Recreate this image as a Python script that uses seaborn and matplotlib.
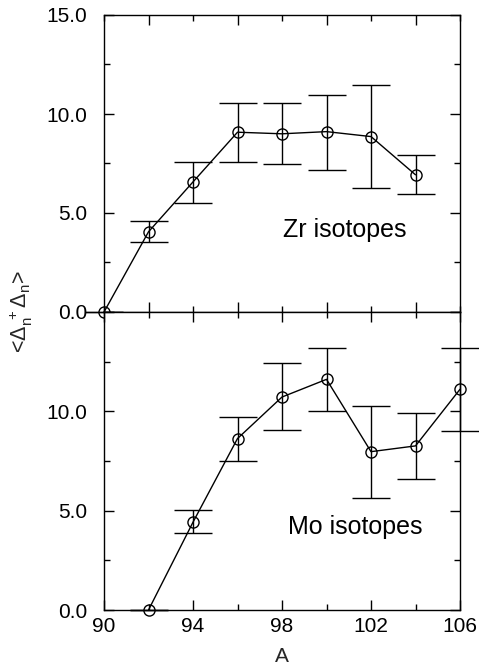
import numpy as np
import pandas as pd
import matplotlib
matplotlib.use("Agg")
import matplotlib.pyplot as plt
from matplotlib.ticker import MultipleLocator
import seaborn as sns

# ---- data ----
zr_A = [90, 92, 94, 96, 98, 100, 102, 104]
zr_val = [0.0, 4.05, 6.57, 9.08, 9.0, 9.11, 8.86, 6.93]
zr_hi = [0.0, 4.59, 7.60, 10.54, 10.54, 10.97, 11.46, 7.92]
zr_lo = [0.0, 3.52, 5.48, 7.59, 7.45, 7.19, 6.25, 5.95]

mo_A = [92, 94, 96, 98, 100, 102, 104, 106]
mo_val = [0.0, 4.42, 8.63, 10.72, 11.61, 7.97, 8.26, 11.11]
mo_hi = [0.0, 5.01, 9.73, 12.43, 13.20, 10.27, 9.93, 13.20]
mo_lo = [0.0, 3.87, 7.52, 9.05, 10.02, 5.63, 6.58, 9.00]

x_ticks = [90, 94, 98, 102, 106]
y_ticks = [0.0, 5.0, 10.0, 15.0]
panel_labels = ["Zr isotopes", "Mo isotopes"]

sns.set_theme(style="ticks")
plt.rcParams['font.family'] = ['Liberation Sans', 'DejaVu Sans']
plt.rcParams['mathtext.fontset'] = 'custom'
plt.rcParams['mathtext.rm'] = 'Liberation Sans'
plt.rcParams['mathtext.it'] = 'Liberation Sans'
plt.rcParams['mathtext.sf'] = 'Liberation Sans'

W, H = 479, 670
fig = plt.figure(figsize=(W / 100, H / 100), dpi=100)
left, right = 104 / W, 460 / W
y_top, y_mid, y_bot = 15 / H, 312 / H, 610 / H
ax1 = fig.add_axes([left, 1 - y_mid, right - left, y_mid - y_top])
ax2 = fig.add_axes([left, 1 - y_bot, right - left, y_bot - y_mid])

def draw(ax, A, val, hi, lo, label, label_xy, show_top_label):
    df = pd.DataFrame({"A": A, "v": val})
    yerr = [np.array(val) - np.array(lo), np.array(hi) - np.array(val)]
    eb = ax.errorbar(A, val, yerr=yerr, fmt='none', ecolor='black', elinewidth=1.0,
                     capsize=14, capthick=1.0, zorder=2)
    for art in eb.lines[1]:
        art.set_clip_on(False)
    for art in eb.lines[2]:
        art.set_clip_on(False)
    sns.lineplot(data=df, x="A", y="v", ax=ax, color='black', linewidth=1.0,
                 marker='o', markersize=8, markerfacecolor='none',
                 markeredgecolor='black', markeredgewidth=1.0, zorder=3)
    for ln in ax.lines:
        ln.set_clip_on(False)
    ax.set_xlim(90, 106)
    ax.set_ylim(0, 15)
    ax.xaxis.set_major_locator(MultipleLocator(4))
    ax.xaxis.set_minor_locator(MultipleLocator(2))
    ax.set_yticks(y_ticks)
    ax.yaxis.set_minor_locator(MultipleLocator(2.5))
    ax.tick_params(which='both', direction='in', top=True, right=True,
                   colors='black', width=1.0)
    ax.tick_params(which='major', length=7)
    ax.tick_params(which='minor', length=4)
    ax.tick_params(axis='y', which='major', pad=12, labelsize=15)
    ax.tick_params(axis='x', which='major', pad=5, labelsize=15)
    ylabels = ["%.1f" % t for t in y_ticks]
    if not show_top_label:
        ylabels[-1] = ""
    ax.set_yticklabels(ylabels)
    for s in ax.spines.values():
        s.set_color('black')
        s.set_linewidth(1.0)
    ax.set_xlabel("")
    ax.set_ylabel("")
    ax.text(label_xy[0], label_xy[1], label, fontsize=18, color='black',
            ha='left', va='baseline')

draw(ax1, zr_A, zr_val, zr_hi, zr_lo, panel_labels[0], (98.05, 3.78), True)
draw(ax2, mo_A, mo_val, mo_hi, mo_lo, panel_labels[1], (98.27, 3.82), False)
ax1.set_xticklabels([])
ax2.set_xticks(x_ticks)
ax2.set_xticklabels([str(t) for t in x_ticks])
ax2.set_xlabel("A", fontsize=15, labelpad=8)

fig.text(21 / W, 1 - 312 / H, r"<$\mathregular{\Delta_n^{\ +}\Delta_n}$>",
         rotation=90, ha='center', va='center', fontsize=15.5)

fig.savefig("out.png", dpi=100)
